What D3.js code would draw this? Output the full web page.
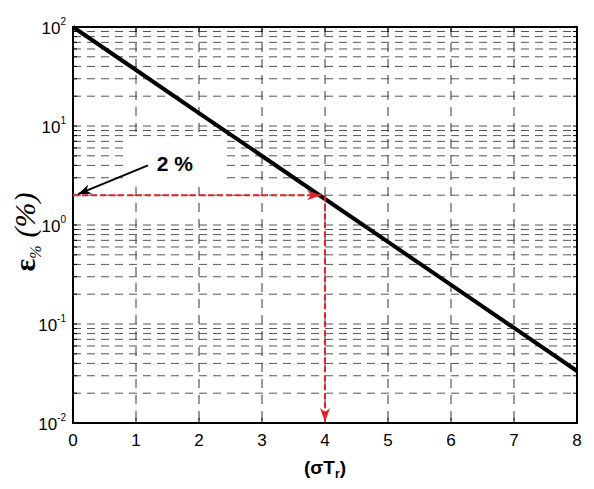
<!DOCTYPE html>
<html>
<head>
<meta charset="utf-8">
<script src="https://cdn.jsdelivr.net/npm/d3@7"></script>
<style>
  body { margin: 0; background: #fff; }
  text { font-family: "Liberation Sans", Arial, sans-serif; }
</style>
</head>
<body>
<div id="chart"></div>
<script>
// data
const xVals = [0, 1, 2, 3, 4, 5, 6, 7, 8];
const errVals = [100, 36.8, 13.5, 4.98, 1.83, 0.674, 0.248, 0.0912, 0.0335];
const xTicks = [0, 1, 2, 3, 4, 5, 6, 7, 8];
const yDecades = [-2, -1, 0, 1, 2];
const markX = 4;
const markY = 2;

const W = 594, H = 489;
const margin = { TOP: 27, BOTTOM: 66, LEFT: 73, RIGHT: 17 };
const w = W - margin.LEFT - margin.RIGHT;
const h = H - margin.TOP - margin.BOTTOM;

const svg = d3.select("#chart").append("svg")
  .attr("width", W).attr("height", H)
  .append("g")
  .attr("transform", `translate(${margin.LEFT}, ${margin.TOP})`);

const x = d3.scaleLinear().domain([0, 8]).range([0, w]);
const y = d3.scaleLog().domain([1e-2, 1e2]).range([h, 0]);

// minor values for grid
let minors = [];
yDecades.slice(0, -1).forEach(e => {
  for (let m = 1; m <= 9; m++) minors.push(m * Math.pow(10, e));
});
minors = minors.filter(v => v > 1e-2);

// horizontal grid
svg.selectAll(".hgrid").data(minors).enter().append("line")
  .attr("x1", 0).attr("x2", w)
  .attr("y1", d => y(d)).attr("y2", d => y(d))
  .attr("stroke", "#555").attr("stroke-width", 1)
  .attr("stroke-dasharray", "8,6");

// vertical grid
svg.selectAll(".vgrid").data(xTicks.slice(1, -1)).enter().append("line")
  .attr("x1", d => x(d)).attr("x2", d => x(d))
  .attr("y1", 0).attr("y2", h)
  .attr("stroke", "#333").attr("stroke-width", 1)
  .attr("stroke-dasharray", "9,7");

// white patch behind the label
svg.append("rect")
  .attr("x", x(0.83)).attr("y", y(7.8))
  .attr("width", x(2.41) - x(0.83)).attr("height", y(2.55) - y(7.8))
  .attr("fill", "#fff");

// ticks on both sides
const tickSide = (x0, dir) => {
  svg.selectAll(null).data(minors).enter().append("line")
    .attr("x1", x0).attr("x2", x0 + dir * 4)
    .attr("y1", d => y(d)).attr("y2", d => y(d))
    .attr("stroke", "#000").attr("stroke-width", 1);
};
tickSide(0, 1);
tickSide(w, -1);
svg.selectAll(null).data(xTicks).enter().append("line")
  .attr("x1", d => x(d)).attr("x2", d => x(d))
  .attr("y1", h).attr("y2", h - 5)
  .attr("stroke", "#000");
svg.selectAll(null).data(xTicks).enter().append("line")
  .attr("x1", d => x(d)).attr("x2", d => x(d))
  .attr("y1", 0).attr("y2", 5)
  .attr("stroke", "#000");

// frame
svg.append("rect")
  .attr("width", w).attr("height", h)
  .attr("fill", "none").attr("stroke", "#000").attr("stroke-width", 2);

// tick labels
svg.selectAll(".xlab").data(xTicks).enter().append("text")
  .attr("x", d => x(d)).attr("y", h + 23)
  .attr("text-anchor", "middle")
  .style("font-size", "17px")
  .text(d => d);

const yl = svg.selectAll(".ylab").data(yDecades).enter().append("text")
  .attr("x", -7).attr("y", d => y(Math.pow(10, d)) + 7)
  .attr("text-anchor", "end")
  .style("font-size", "17px");
yl.append("tspan").text("10");
yl.append("tspan").attr("dy", -9).style("font-size", "10px").text(d => d);

// data line
const line = d3.line().x((d, i) => x(xVals[i])).y(d => y(d));
svg.append("path").datum(errVals)
  .attr("d", line)
  .attr("fill", "none").attr("stroke", "#000").attr("stroke-width", 4);

// red marker lines
const defs = svg.append("defs");
defs.append("marker").attr("id", "redHead")
  .attr("viewBox", "0 0 10 10").attr("refX", 10).attr("refY", 5)
  .attr("markerWidth", 14).attr("markerHeight", 10).attr("markerUnits", "userSpaceOnUse")
  .attr("orient", "auto")
  .attr("preserveAspectRatio", "none")
  .append("path").attr("d", "M0,0 L10,5 L0,10 L3,5 Z").attr("fill", "#e8202a");
defs.append("marker").attr("id", "blackHead")
  .attr("viewBox", "0 0 10 10").attr("refX", 10).attr("refY", 5)
  .attr("markerWidth", 13).attr("markerHeight", 10).attr("markerUnits", "userSpaceOnUse")
  .attr("orient", "auto")
  .attr("preserveAspectRatio", "none")
  .append("path").attr("d", "M0,0 L10,5 L0,10 L3,5 Z").attr("fill", "#000");

svg.append("line")
  .attr("x1", x(0)).attr("x2", x(markX) - 4)
  .attr("y1", y(markY)).attr("y2", y(markY))
  .attr("stroke", "#e8202a").attr("stroke-width", 2)
  .attr("stroke-dasharray", "6,3")
  .attr("marker-end", "url(#redHead)");
svg.append("line")
  .attr("x1", x(markX)).attr("x2", x(markX))
  .attr("y1", y(markY)).attr("y2", h - 1)
  .attr("stroke", "#e8202a").attr("stroke-width", 2)
  .attr("stroke-dasharray", "6,3")
  .attr("marker-end", "url(#redHead)");

// annotation
svg.append("text")
  .attr("x", x(1.33)).attr("y", y(3.5))
  .style("font-size", "21px").style("font-weight", "bold")
  .text("2 %");
svg.append("line")
  .attr("x1", x(1.19)).attr("y1", y(4.0))
  .attr("x2", x(0.08)).attr("y2", y(markY) - 1)
  .attr("stroke", "#000").attr("stroke-width", 2)
  .attr("marker-end", "url(#blackHead)");

// axis titles
const xt = svg.append("text")
  .attr("x", x(4)).attr("y", h + 51)
  .attr("text-anchor", "middle")
  .style("font-size", "19px").style("font-weight", "bold");
xt.append("tspan").text("(σT");
xt.append("tspan").attr("dy", 4).style("font-size", "12px").text("r");
xt.append("tspan").attr("dy", -4).text(")");

const yt = svg.append("text")
  .attr("transform", `translate(-38, ${y(0.85)}) rotate(-90)`)
  .attr("text-anchor", "middle")
  .style("font-family", "'Liberation Serif', 'Times New Roman', serif")
  .style("font-size", "30px").style("font-weight", "bold");
yt.append("tspan").text("ε");
yt.append("tspan").attr("dy", 6).style("font-size", "16px").style("font-weight", "normal").style("font-style", "italic").text("%");
yt.append("tspan").attr("dy", -6).attr("dx", 8).style("font-weight", "normal").style("font-style", "italic").text("(%)");
</script>
</body>
</html>
